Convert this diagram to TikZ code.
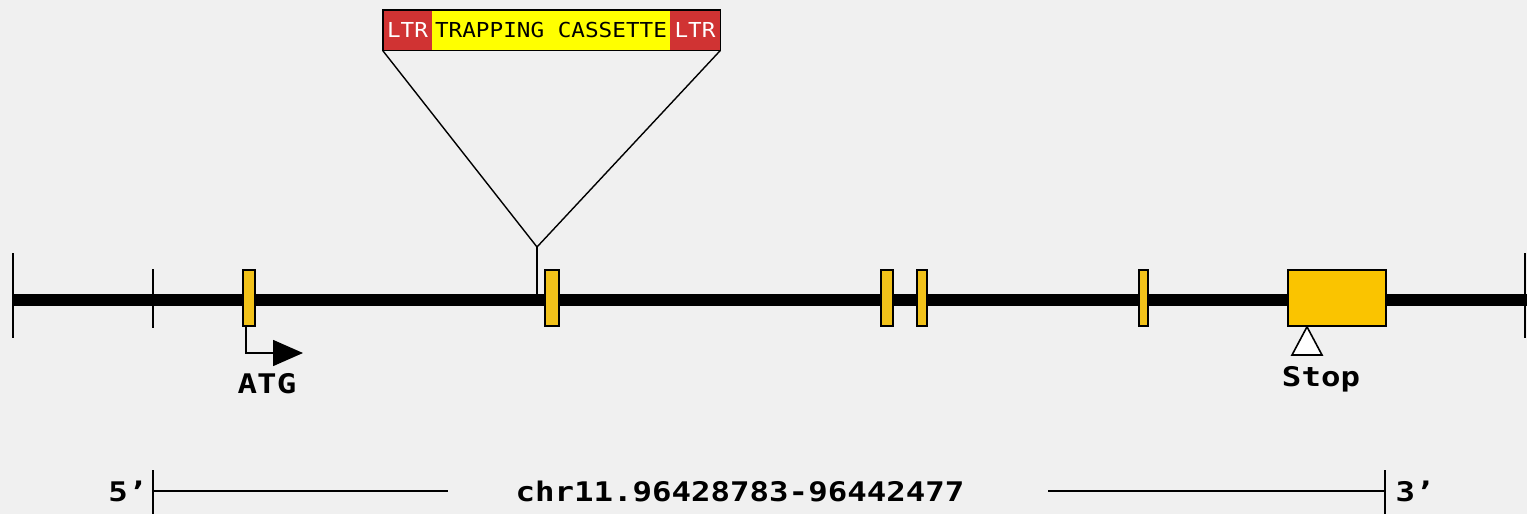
\documentclass[tikz,border=0pt]{standalone}
\usepackage{fontspec}
\usetikzlibrary{arrows.meta}
\newfontfamily\genefont[FakeStretch=1.2]{DejaVu Sans Mono}
\newfontfamily\cassfont[FakeStretch=1.1]{DejaVu Sans Mono}
\definecolor{bgray}{HTML}{F0F0F0}
\definecolor{exonyellow}{HTML}{F2C21A}
\definecolor{bigexon}{HTML}{FAC400}
\definecolor{ltrred}{HTML}{D03333}
\definecolor{cassyellow}{HTML}{FFFF00}
\tikzset{
	exon/.style={draw=black,fill=exonyellow,line width=0.8pt,inner sep=0pt,minimum height=28pt,minimum width=#1},
	ltrbox/.style={fill=ltrred,text=white,inner sep=0pt,minimum height=20pt,minimum width=#1,font=\cassfont\fontsize{10.3}{11}\selectfont},
	genelabel/.style={inner sep=0pt,font=\genefont\bfseries\fontsize{13.5}{14}\selectfont}
}
\begin{document}
\begin{tikzpicture}[x=0.5pt,y=-0.5pt]
		\fill [bgray](0,0) rectangle (1527,514);
		\useasboundingbox (0,0) rectangle (1527,514);
		\draw [line width=6.3pt](13,300)--(1527,300);
		\draw [line width=1pt](13,253)--(13,338);
		\draw [line width=1pt](153,269)--(153,328);
		\draw [line width=1pt](1525,253)--(1525,338);
		\node [exon=6pt] (ex1) at (249,298) {};
		\node [exon=7pt] (ex2) at (552,298) {};
		\node [exon=6pt] (ex3) at (887,298) {};
		\node [exon=5pt] (ex4) at (922,298) {};
		\node [exon=4.5pt] (ex5) at (1143.5,298) {};
		\node [exon=49pt,fill=bigexon] (ex6) at (1337,298) {};
		\node [ltrbox=24.5pt] (ltrL) at (407.5,30) {LTR};
		\node [ltrbox=119pt,fill=cassyellow,text=black] (cass) at (551,30) {TRAPPING CASSETTE};
		\node [ltrbox=25pt] (ltrR) at (695,30) {LTR};
		\draw [line width=0.9pt](ltrL.north west) rectangle (ltrR.south east);
		\coordinate (ins) at (537,247);
		\draw [line width=0.7pt](537,300)--(ins);
		\draw [line width=0.7pt](ltrL.south west)--(ins)--(ltrR.south east);
		\coordinate (atgtip) at (303,353);
		\draw [line width=0.8pt,-{Triangle[length=15pt,width=13pt]}]([xshift=-1.5pt]ex1.south) |- (atgtip);
		\node [genelabel] (atg) at (267,384) {ATG};
		\draw [line width=0.8pt,fill=white](ex6.south -| 1307,0)--(1322,355)--(1292,355)--cycle;
		\node [genelabel] (stop) at (1321,379) {Stop};
		\node [genelabel] (chr) at (740,491) {chr11.96428783-96442477};
		\node [genelabel] (five) at (128,491) {5’};
		\node [genelabel] (three) at (1415,491) {3’};
		\coordinate (left) at (153,491);
		\coordinate (right) at (1385,491);
		\draw [line width=1pt](153,470)--(153,514);
		\draw [line width=1pt](1385,470)--(1385,514);
		\draw [line width=1pt](left)--(448,491);
		\draw [line width=1pt](1048,491)--(right);
		
		\end{tikzpicture}
\end{document}
